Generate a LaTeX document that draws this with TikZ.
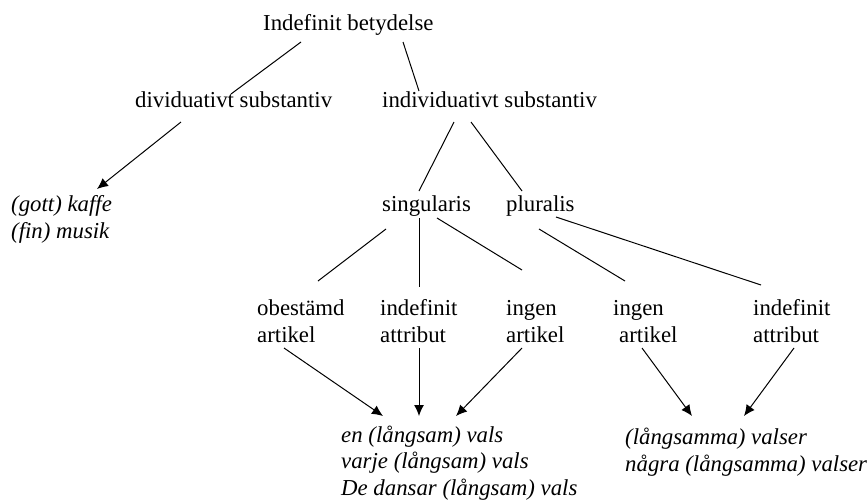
\documentclass[tikz,border=0pt]{standalone}
\usepackage{fontspec}
\setmainfont{Liberation Serif}
\usetikzlibrary{arrows.meta}

\begin{document}
\begin{tikzpicture}
        [x=1pt, y=-1pt,
        term/.style={font=\fontsize{22.8}{26.5}\selectfont, inner sep=0pt, anchor=base west, align=left},
        example/.style={term, font=\fontsize{22.8}{26.5}\selectfont\itshape},
        edge/.style={black, line width=1pt},
        arrow/.style={edge, -{Latex[length=11pt, width=10pt]}}]

        \useasboundingbox (0,0) rectangle (867,501);

        % levels of the tree (multi-line nodes sit on their last baseline)
        \node[term] (top) at (263,30) {Indefinit betydelse};
        \node[term] (div) at (135,107) {dividuativt substantiv};
        \node[term] (ind) at (382,107) {individuativt substantiv};
        \node[example] (kaffe) at (11,238) {(gott) kaffe\\(fin) musik};
        \node[term] (sing) at (382,211) {singularis};
        \node[term] (plur) at (506,211) {pluralis};

        \node[term] (obest) at (257,342) {obestämd\\artikel};
        \node[term] (attrS) at (380,342) {indefinit\\attribut};
        \node[term] (ingenS) at (506,342) {ingen\\artikel};
        \node[term] (ingenP) at (613,342) {ingen\\\hspace*{6pt}artikel};
        \node[term] (attrP) at (753,342) {indefinit\\attribut};

        \node[example] (exS) at (341,495) {en (långsam) vals\\varje (långsam) vals\\De dansar (långsam) vals};
        \node[example] (exP) at (625,471) {(långsamma) valser\\några (långsamma) valser};

        % top -> substantiv
        \coordinate (T1) at ([xshift=38pt, yshift=-12pt]top.base west);
        \coordinate (T2) at ([xshift=140pt, yshift=-12pt]top.base west);
        \draw[edge] (T1) -- ([xshift=96pt, yshift=13pt]div.base west);
        \draw[edge] (T2) -- ([xshift=37pt, yshift=16pt]ind.base west);

        % dividuativt -> examples
        \draw[arrow] ([xshift=46pt, yshift=-15pt]div.base west) -- ([xshift=86pt, yshift=49pt]kaffe.base west);

        % individuativt -> numerus
        \draw[edge] ([xshift=72pt, yshift=-15pt]ind.base west) -- ([xshift=37pt, yshift=20pt]sing.base west);
        \draw[edge] ([xshift=89pt, yshift=-15pt]ind.base west) -- ([xshift=16pt, yshift=20pt]plur.base west);

        % singularis
        \draw[edge] ([xshift=4pt, yshift=-18pt]sing.base west) -- ([xshift=61pt, yshift=61pt]obest.base west);
        \draw[edge] ([xshift=37pt, yshift=-7pt]sing.base west) -- ([xshift=39pt, yshift=55pt]attrS.base west);
        \draw[edge] ([xshift=55pt, yshift=-7pt]sing.base west) -- ([xshift=16pt, yshift=72pt]ingenS.base west);

        % pluralis
        \draw[edge] ([xshift=33pt, yshift=-18pt]plur.base west) -- ([xshift=12pt, yshift=61pt]ingenP.base west);
        \draw[edge] ([xshift=50pt, yshift=-6pt]plur.base west) -- ([xshift=8pt, yshift=57pt]attrP.base west);

        % arrows to the examples
        \draw[arrow] ([xshift=27pt, yshift=-6pt]obest.base west) -- ([xshift=42pt, yshift=79pt]exS.base west);
        \draw[arrow] ([xshift=39pt, yshift=-6pt]attrS.base west) -- ([xshift=78pt, yshift=79pt]exS.base west);
        \draw[arrow] ([xshift=16pt, yshift=-6pt]ingenS.base west) -- ([xshift=115pt, yshift=79pt]exS.base west);
        \draw[arrow] ([xshift=29pt, yshift=-6pt]ingenP.base west) -- ([xshift=67pt, yshift=55pt]exP.base west);
        \draw[arrow] ([xshift=41pt, yshift=-6pt]attrP.base west) -- ([xshift=119pt, yshift=55pt]exP.base west);
    \end{tikzpicture}
\end{document}
